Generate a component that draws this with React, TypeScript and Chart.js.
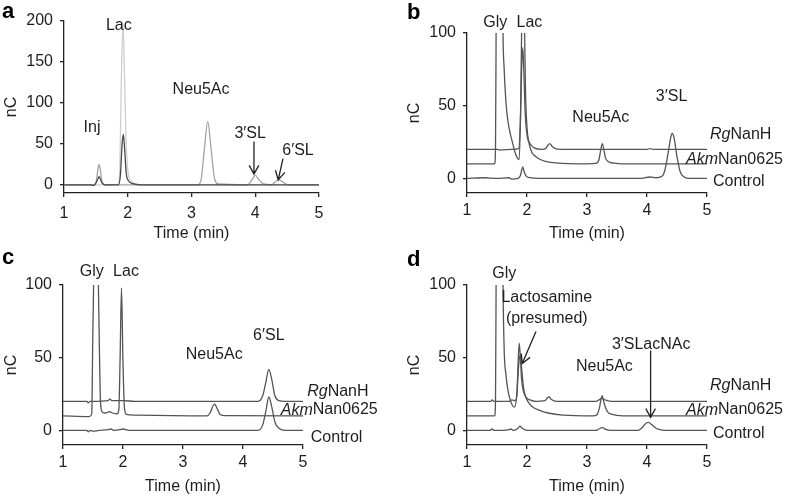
import React, { useEffect, useRef } from 'react';
import { Chart, registerables } from 'chart.js';
Chart.register(...registerables);

type Pt = [number, number];

const FONT = '"Liberation Sans", Arial, Helvetica, sans-serif';
const TEXT = '#1e1e1e';
const AXIS = '#222222';

// ---------- ticks ----------
const xTicks = [1, 2, 3, 4, 5];
const yTicksA = [0, 50, 100, 150, 200];
const yTicksBCD = [0, 50, 100];

// ---------- panel a (standards) ----------
const aDark: Pt[] = [[1, 0], [1.42, 0], [1.46, -0.8], [1.5, 2], [1.53, 7], [1.55, 10], [1.57, 7], [1.6, 2], [1.65, 0], [1.85, 0], [1.885, 12], [1.91, 48], [1.93, 62], [1.95, 45], [1.975, 15], [2.01, 5], [2.1, 1], [2.2, 0], [5, 0]];
const aMedium: Pt[] = [[1, 0], [1.48, 0], [1.51, 6], [1.53, 18], [1.55, 25], [1.57, 18], [1.59, 6], [1.63, 0], [3.1, 0], [3.15, 6], [3.2, 42], [3.255, 77], [3.31, 42], [3.36, 8], [3.42, 1], [3.88, 0], [3.94, 5], [4.0, 11.5], [4.06, 6], [4.13, 1], [4.26, 0], [4.31, 3.5], [4.37, 6], [4.44, 3], [4.52, 0], [5, 0]];
const aLight: Pt[] = [[1, 0], [1.85, 0], [1.875, 18], [1.9, 130], [1.925, 198], [1.95, 130], [1.975, 50], [2.005, 15], [2.06, 4], [2.15, 0], [5, 0]];

// ---------- panel b (3'SL) ----------
const bRg: Pt[] = [[1, 20], [1.5, 20], [1.55, 19.5], [1.75, 20], [1.86, 20.5], [1.89, 40], [1.91, 75], [1.93, 90], [1.95, 70], [1.97, 45], [2.0, 30], [2.05, 24], [2.12, 21], [2.25, 20], [2.31, 20.5], [2.35, 23], [2.38, 24], [2.42, 22], [2.5, 20.2], [3.0, 20], [4.0, 20], [4.05, 20.5], [4.1, 20], [5, 20]];
const bAkm: Pt[] = [[1, 10], [1.46, 10], [1.475, 20], [1.485, 100], [1.5, 220], [1.54, 300], [1.58, 200], [1.6, 100], [1.62, 75], [1.65, 52], [1.68, 40], [1.72, 31], [1.75, 26], [1.8, 18], [1.84, 14], [1.87, 13], [1.895, 50], [1.91, 100], [1.935, 125], [1.96, 100], [1.975, 60], [2.0, 35], [2.03, 25], [2.08, 18], [2.15, 15], [2.25, 12.5], [2.4, 11], [2.6, 10.3], [3.0, 10], [3.15, 10.3], [3.2, 13], [3.23, 20], [3.255, 24], [3.28, 20], [3.31, 14], [3.36, 11.5], [3.45, 10.5], [3.6, 10], [5, 10]];
const bControl: Pt[] = [[1, 0], [1.3, 0.5], [1.5, 0], [1.7, 0.5], [1.75, -0.5], [1.85, 0], [1.89, 2], [1.915, 6.5], [1.93, 8], [1.95, 5], [1.98, 2], [2.05, 0.5], [2.2, 0], [3.9, 0], [4.05, 1], [4.15, 0.5], [4.25, 1.5], [4.3, 6], [4.35, 17], [4.4, 29], [4.42, 31], [4.45, 28], [4.5, 15], [4.55, 5], [4.62, 1], [4.7, 0], [5, 0]];

// ---------- panel c (6'SL) ----------
const cRg: Pt[] = [[1, 20], [1.4, 20], [1.42, 19], [1.45, 20], [1.5, 20], [1.75, 20.5], [1.78, 21.5], [1.82, 20.5], [2.0, 20.5], [2.2, 20], [4.25, 20], [4.33, 24], [4.38, 33], [4.43, 42], [4.48, 35], [4.53, 24], [4.6, 20.5], [4.7, 20], [5, 20]];
const cAkm: Pt[] = [[1, 10], [1.43, 9.5], [1.46, 10], [1.48, 12], [1.495, 60], [1.51, 100], [1.53, 130], [1.57, 130], [1.59, 100], [1.605, 60], [1.625, 20], [1.65, 13], [1.7, 12], [1.75, 12.5], [1.78, 13], [1.82, 12], [1.9, 11.5], [1.93, 14], [1.952, 50], [1.975, 98], [1.998, 50], [2.025, 15], [2.06, 11], [2.2, 10.5], [3.4, 10], [3.45, 12], [3.5, 17], [3.53, 18], [3.57, 15], [3.62, 11], [3.7, 10.2], [5, 10]];
const cControl: Pt[] = [[1, 0], [1.4, 0], [1.42, -1], [1.45, 0], [1.5, -0.5], [1.6, 0], [1.75, 0.5], [1.8, 1], [1.85, 0], [1.95, 0.5], [2.0, 1], [2.1, 0], [4.25, 0], [4.33, 4], [4.38, 13], [4.43, 23], [4.48, 16], [4.53, 6], [4.6, 1.5], [4.7, 0], [5, 0]];

// ---------- panel d (3'SLacNAc) ----------
const dRg: Pt[] = [[1, 20], [1.4, 20], [1.42, 21], [1.45, 20], [1.7, 20], [1.75, 21], [1.8, 20.5], [1.83, 24], [1.85, 45], [1.87, 60], [1.89, 50], [1.91, 35], [1.94, 27], [1.98, 23], [2.05, 21], [2.15, 20], [2.3, 20.5], [2.34, 22.5], [2.37, 23], [2.4, 21.5], [2.5, 20], [3.15, 20], [3.2, 21], [3.25, 22], [3.3, 21], [3.4, 20], [5, 20]];
const dAkm: Pt[] = [[1, 10], [1.46, 10], [1.475, 20], [1.485, 100], [1.5, 220], [1.54, 300], [1.58, 200], [1.6, 100], [1.62, 55], [1.65, 38], [1.68, 28], [1.72, 21], [1.76, 17], [1.79, 16], [1.83, 24], [1.86, 44], [1.885, 52], [1.91, 43], [1.94, 30], [1.98, 23], [2.03, 19], [2.1, 16], [2.2, 14], [2.35, 12], [2.6, 10.5], [3.1, 10], [3.17, 11], [3.21, 16], [3.25, 24], [3.29, 18], [3.34, 13], [3.42, 11], [3.6, 10], [5, 10]];
const dControl: Pt[] = [[1, 0], [1.38, 0], [1.42, 1], [1.45, 0], [1.6, 0], [1.7, 0.5], [1.73, 1], [1.78, 0], [1.85, 1.5], [1.88, 3], [1.92, 1.5], [2.0, 0], [3.15, 0], [3.22, 1.5], [3.26, 2], [3.32, 0.5], [3.4, 0], [3.85, 0], [3.92, 2], [3.97, 4.5], [4.02, 5.5], [4.08, 4], [4.15, 1.5], [4.25, 0.3], [4.35, 0], [5, 0]];

type Label = { text: string; t: number; v: number };
type Arrow = { t1: number; v1: number; t2: number; v2: number };
type SeriesLabel = { parts: { text: string; italic?: boolean }[]; t: number; v: number };
type Trace = { pts: Pt[]; color: string };
type PanelSpec = {
  left: number; top: number; w: number; h: number;
  area: { l: number; r: number; t: number; b: number };
  yMax: number; yTicks: number[];
  traces: Trace[];
  labels: Label[]; arrows: Arrow[]; series: SeriesLabel[];
  letter: string; letterX: number; letterY: number;
  yTitlePad: number; xTitlePad: number; xTickPad: number;
};

const rg = (v: number, t = 5.05): SeriesLabel => ({ parts: [{ text: 'Rg', italic: true }, { text: 'NanH' }], t, v });
const akm = (v: number, t = 4.65): SeriesLabel => ({ parts: [{ text: 'Akm', italic: true }, { text: 'Nan0625' }], t, v });
const ctl = (v: number, t = 5.1): SeriesLabel => ({ parts: [{ text: 'Control' }], t, v });

const TRACE = '#555555';

const panels: PanelSpec[] = [
  {
    left: 0, top: 0, w: 394, h: 248, area: { l: 64, r: 319, t: 21, b: 193 }, yMax: 200, yTicks: yTicksA,
    traces: [{ pts: aDark, color: '#4a4a4a' }, { pts: aMedium, color: '#a3a3a3' }, { pts: aLight, color: '#cfcfcf' }],
    labels: [{ text: 'Inj', t: 1.44, v: 70 }, { text: 'Lac', t: 1.86, v: 194 }, { text: 'Neu5Ac', t: 3.15, v: 116 }, { text: '3\u2032SL', t: 3.92, v: 63 }, { text: '6\u2032SL', t: 4.67, v: 42 }],
    arrows: [{ t1: 3.98, v1: 53, t2: 3.98, v2: 13 }, { t1: 4.435, v1: 32, t2: 4.36, v2: 6 }],
    series: [], letter: 'a', letterX: 2, letterY: 18, yTitlePad: 2.4, xTitlePad: 4.4, xTickPad: 7,
  },
  {
    left: 394, top: 0, w: 394, h: 248, area: { l: 73, r: 313, t: 33, b: 193 }, yMax: 100, yTicks: yTicksBCD,
    traces: [{ pts: bRg, color: TRACE }, { pts: bAkm, color: TRACE }, { pts: bControl, color: TRACE }],
    labels: [{ text: 'Gly', t: 1.47, v: 107 }, { text: 'Lac', t: 2.04, v: 107 }, { text: 'Neu5Ac', t: 3.23, v: 42 }, { text: '3\u2032SL', t: 4.41, v: 56 }],
    arrows: [], series: [rg(30), akm(13), ctl(-2)],
    letter: 'b', letterX: 13, letterY: 19, yTitlePad: 11, xTitlePad: 4.4, xTickPad: 4,
  },
  {
    left: 0, top: 248, w: 394, h: 248, area: { l: 63, r: 303, t: 37, b: 197 }, yMax: 100, yTicks: yTicksBCD,
    traces: [{ pts: cRg, color: TRACE }, { pts: cAkm, color: TRACE }, { pts: cControl, color: TRACE }],
    labels: [{ text: 'Gly', t: 1.48, v: 109 }, { text: 'Lac', t: 2.05, v: 109 }, { text: 'Neu5Ac', t: 3.52, v: 52 }, { text: '6\u2032SL', t: 4.43, v: 65 }],
    arrows: [], series: [rg(27, 5.07), akm(14, 4.63), ctl(-5, 5.13)],
    letter: 'c', letterX: 2, letterY: 16, yTitlePad: 2.4, xTitlePad: 0, xTickPad: 4,
  },
  {
    left: 394, top: 248, w: 394, h: 248, area: { l: 73, r: 313, t: 37, b: 197 }, yMax: 100, yTicks: yTicksBCD,
    traces: [{ pts: dRg, color: TRACE }, { pts: dAkm, color: TRACE }, { pts: dControl, color: TRACE }],
    labels: [{ text: 'Gly', t: 1.62, v: 108 }, { text: 'Lactosamine', t: 2.33, v: 91 }, { text: '(presumed)', t: 2.33, v: 77 }, { text: 'Neu5Ac', t: 3.29, v: 44 }, { text: '3\u2032SLacNAc', t: 4.07, v: 59 }],
    arrows: [{ t1: 2.15, v1: 68, t2: 1.92, v2: 46 }, { t1: 4.06, v1: 55, t2: 4.06, v2: 9 }],
    series: [rg(31), akm(14), ctl(-2)],
    letter: 'd', letterX: 13, letterY: 18, yTitlePad: 11, xTitlePad: 0, xTickPad: 4,
  },
];

function makeAnnot(spec: PanelSpec) {
  return {
    id: 'annot',
    afterDraw(chart: any) {
      const ctx: CanvasRenderingContext2D = chart.ctx;
      const xs = chart.scales.x;
      const ys = chart.scales.y;
      ctx.save();
      ctx.fillStyle = TEXT;
      ctx.font = `16px ${FONT}`;
      ctx.textAlign = 'center';
      ctx.textBaseline = 'middle';
      for (const l of spec.labels) {
        ctx.fillText(l.text, xs.getPixelForValue(l.t), ys.getPixelForValue(l.v));
      }
      ctx.strokeStyle = AXIS;
      ctx.lineWidth = 1.3;
      for (const a of spec.arrows) {
        const x1 = xs.getPixelForValue(a.t1), y1 = ys.getPixelForValue(a.v1);
        const x2 = xs.getPixelForValue(a.t2), y2 = ys.getPixelForValue(a.v2);
        const ang = Math.atan2(y2 - y1, x2 - x1);
        const hl = 10, sp = 0.5;
        ctx.beginPath();
        ctx.moveTo(x1, y1);
        ctx.lineTo(x2, y2);
        ctx.moveTo(x2 - hl * Math.cos(ang - sp), y2 - hl * Math.sin(ang - sp));
        ctx.lineTo(x2, y2);
        ctx.lineTo(x2 - hl * Math.cos(ang + sp), y2 - hl * Math.sin(ang + sp));
        ctx.stroke();
      }
      ctx.textAlign = 'left';
      for (const s of spec.series) {
        let x = xs.getPixelForValue(s.t);
        const y = ys.getPixelForValue(s.v);
        for (const p of s.parts) {
          ctx.font = `${p.italic ? 'italic ' : ''}16px ${FONT}`;
          ctx.fillText(p.text, x, y);
          x += ctx.measureText(p.text).width;
        }
      }
      ctx.font = `bold 22px ${FONT}`;
      ctx.textBaseline = 'alphabetic';
      ctx.fillStyle = '#000';
      ctx.fillText(spec.letter, spec.letterX, spec.letterY);
      ctx.restore();
    },
  };
}

function Panel({ spec }: { spec: PanelSpec }) {
  const ref = useRef<HTMLCanvasElement>(null);
  useEffect(() => {
    if (!ref.current) return;
    const font = { family: FONT, size: 16 };
    const chart = new Chart(ref.current, {
      type: 'line',
      data: {
        datasets: spec.traces.map((tr) => ({
          data: tr.pts.map(([x, y]) => ({ x, y })),
          borderColor: tr.color,
          borderWidth: 1.3,
          pointRadius: 0,
          fill: false,
          cubicInterpolationMode: 'monotone' as const,
        })),
      },
      options: {
        animation: false,
        responsive: false,
        maintainAspectRatio: false,
        events: [],
        layout: { padding: { left: 0, right: spec.w - spec.area.r, top: spec.area.t, bottom: 0 } },
        plugins: { legend: { display: false }, tooltip: { enabled: false } },
        scales: {
          x: {
            type: 'linear', min: 1, max: 5,
            afterBuildTicks: (s: any) => { s.ticks = xTicks.map((v) => ({ value: v })); },
            afterFit: (s: any) => { s.height = spec.h - spec.area.b; },
            grid: { drawOnChartArea: false, drawTicks: true, tickLength: 4, color: AXIS, lineWidth: 1.3 },
            border: { display: true, color: AXIS, width: 1.3 },
            ticks: { color: TEXT, font, padding: spec.xTickPad, maxRotation: 0, autoSkip: false },
            title: { display: true, text: 'Time (min)', color: TEXT, font, padding: { top: 0, bottom: spec.xTitlePad } },
          },
          y: {
            type: 'linear', min: -10, max: spec.yMax,
            afterBuildTicks: (s: any) => { s.ticks = spec.yTicks.map((v) => ({ value: v })); },
            afterFit: (s: any) => { s.width = spec.area.l; },
            grid: { drawOnChartArea: false, drawTicks: true, tickLength: 4, color: AXIS, lineWidth: 1.3 },
            border: { display: true, color: AXIS, width: 1.3 },
            ticks: { color: TEXT, font, padding: 7, autoSkip: false },
            title: { display: true, text: 'nC', color: TEXT, font, padding: { top: spec.yTitlePad, bottom: 0 } },
          },
        },
      },
      plugins: [makeAnnot(spec)],
    } as any);
    return () => chart.destroy();
  }, [spec]);
  return (
    <canvas
      ref={ref}
      width={spec.w}
      height={spec.h}
      style={{ position: 'absolute', left: spec.left, top: spec.top, width: spec.w, height: spec.h }}
    />
  );
}

export default function App() {
  return (
    <div style={{ position: 'absolute', left: 0, top: 0, width: 788, height: 496, background: '#fff', overflow: 'hidden' }}>
      {panels.map((p, i) => (
        <Panel key={i} spec={p} />
      ))}
    </div>
  );
}
